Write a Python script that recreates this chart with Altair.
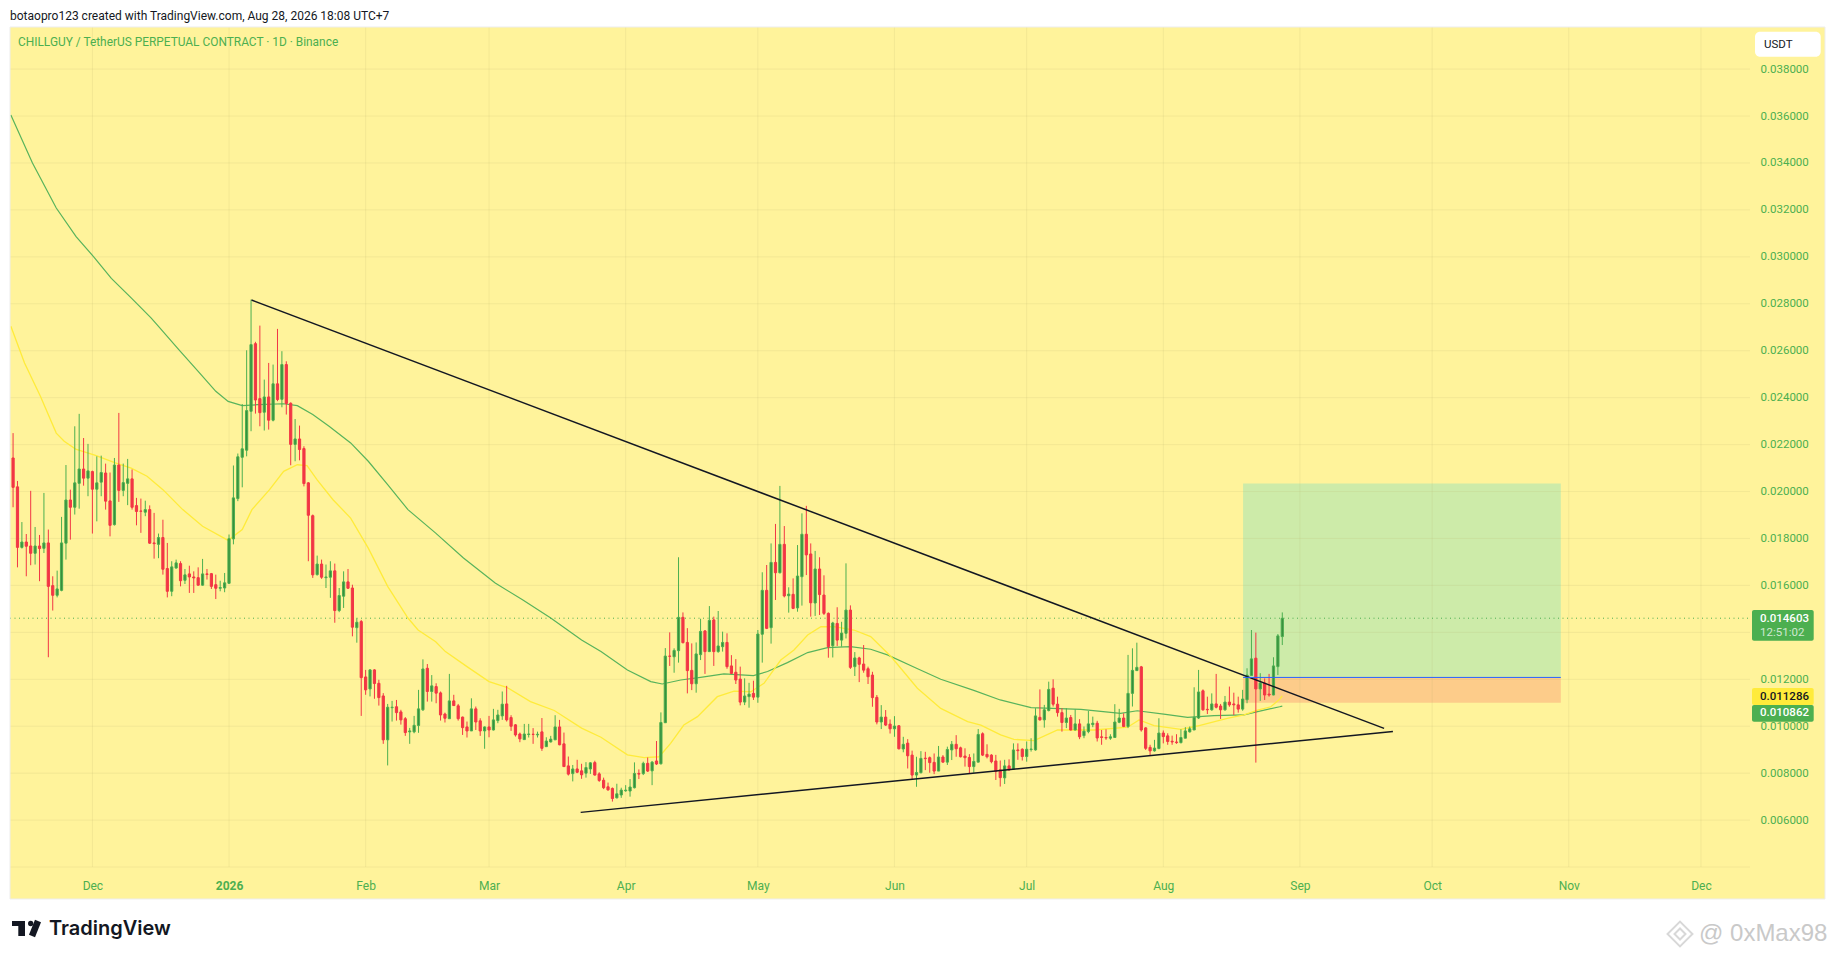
import altair as alt
import pandas as pd

# Prices are written in units of 0.00001 USDT
UNIT = 1e-5
FIRST_DAY = pd.Timestamp("2025-11-13")

opens = [2143,2020,1762,1785,1768,1737,1768,1758,1781,1599,
1558,1579,1780,1964,1933,2035,2096,2057,2085,2010,
2040,2079,1960,1859,2113,2005,2035,2054,1940,1917,
1912,1923,1781,1775,1804,1672,1575,1674,1693,1622,
1649,1636,1633,1601,1649,1650,1603,1588,1589,1609,
1798,1970,2146,2176,2342,2630,2396,2338,2403,2304,
2459,2393,2541,2376,2201,2224,2183,2037,1897,1646,
1691,1633,1635,1662,1493,1554,1615,1589,1420,1446,
1210,1159,1240,1183,1129,942,1079,1083,1061,1032,
976,976,1003,1070,1247,1148,1169,1142,1052,1032,
1108,1087,1039,997,980,1074,1023,980,997,984,
1024,1044,1095,1037,1006,967,943,965,966,963,
976,913,933,942,997,925,831,798,818,810,
800,818,845,797,770,742,735,695,707,725,
724,738,799,798,842,810,852,840,1015,1299,
1296,1322,1464,1357,1238,1181,1305,1406,1318,1453,
1318,1339,1357,1257,1230,1201,1103,1126,1140,1124,
1392,1579,1420,1698,1654,1775,1556,1562,1504,1637,
1818,1734,1525,1670,1559,1481,1343,1438,1367,1396,
1495,1254,1291,1265,1245,1218,1123,1018,1039,1009,
989,1002,903,928,877,792,802,864,866,846,
809,869,847,899,923,908,873,867,828,847,
968,880,877,852,814,780,831,817,899,902,
871,901,899,1038,1027,1067,1162,1094,1058,1016,
1037,984,1010,960,977,1007,1013,955,952,949,
952,1017,1035,999,1140,1237,1253,993,910,895,
905,971,959,936,933,930,949,976,984,1035,
1151,1072,1070,1095,1086,1070,1103,1095,1091,1073,
1113,1216,1290,1159,1184,1137,1133,1254,1382]
closes = [2018,1762,1785,1767,1737,1768,1757,1781,1596,1558,
1585,1781,1964,1933,2037,2096,2057,2088,2010,2037,
2081,1959,1856,2113,2005,2038,2054,1933,1915,1916,
1923,1780,1778,1804,1669,1575,1679,1696,1620,1645,
1636,1632,1601,1649,1647,1596,1588,1591,1611,1799,
1973,2148,2182,2345,2626,2390,2336,2403,2304,2459,
2392,2541,2375,2201,2224,2179,2034,1899,1645,1691,
1635,1636,1662,1493,1557,1615,1588,1422,1443,1207,
1155,1240,1182,1122,942,1081,1081,1058,1027,973,
980,1004,1074,1244,1148,1172,1141,1048,1034,1108,
1088,1032,994,980,1074,1018,980,997,984,1027,
1048,1094,1027,1000,963,946,967,967,965,966,
906,937,945,997,921,828,796,818,804,793,
824,844,792,769,738,729,692,712,728,728,
741,799,796,842,809,847,839,1016,1299,1298,
1323,1464,1356,1237,1181,1308,1404,1318,1451,1318,
1342,1357,1254,1225,1197,1103,1129,1137,1124,1393,
1579,1417,1698,1654,1775,1555,1563,1502,1640,1818,
1730,1526,1670,1561,1481,1339,1440,1367,1397,1495,
1251,1291,1264,1239,1211,1122,1018,1039,1005,989,
1001,904,923,874,792,803,863,862,845,809,
869,847,901,923,904,870,866,828,850,965,
877,870,849,807,781,831,814,899,896,871,
902,903,1044,1027,1070,1157,1094,1058,1016,1035,
984,1010,955,979,1010,1013,950,952,950,955,
1018,1035,999,1140,1238,1251,984,906,895,907,
971,956,935,933,930,952,980,989,1038,1146,
1070,1070,1095,1081,1070,1103,1091,1091,1073,1116,
1218,1287,1159,1184,1133,1133,1257,1385,1460]
highs = [2249,2045,1870,1819,2003,1849,1815,1994,1838,1639,
1663,1892,2113,2008,2278,2331,2228,2203,2089,2150,
2153,2119,2081,2143,2335,2119,2139,2094,1973,1970,
1961,1941,1909,1821,1880,1781,1703,1710,1703,1670,
1684,1660,1677,1713,1670,1653,1646,1620,1653,1817,
2111,2162,2373,2602,2818,2638,2707,2477,2548,2541,
2693,2598,2555,2380,2309,2281,2193,2040,1902,1727,
1710,1689,1703,1693,1589,1660,1670,1603,1460,1453,
1240,1243,1243,1198,1141,1095,1108,1112,1070,1039,
993,1044,1155,1285,1265,1218,1183,1148,1058,1223,
1134,1095,1041,1020,1119,1084,1034,999,1044,1074,
1070,1148,1172,1047,1009,973,1010,1010,992,977,
1035,953,959,1047,1027,973,871,835,857,840,
847,847,853,804,781,760,739,755,738,749,
775,846,816,849,867,852,937,1059,1333,1400,
1332,1720,1485,1418,1353,1357,1458,1410,1512,1467,
1491,1403,1396,1303,1286,1254,1204,1185,1194,1410,
1656,1687,1779,1862,2024,1853,1592,1630,1772,1907,
1939,1779,1747,1720,1643,1485,1445,1507,1445,1694,
1515,1316,1296,1346,1254,1232,1133,1090,1069,1029,
1043,1005,955,945,896,870,894,891,871,884,
916,877,913,937,962,913,906,881,884,988,
974,923,881,878,854,857,859,927,927,906,
935,949,1077,1157,1091,1190,1200,1126,1077,1077,
1048,1072,1030,999,1065,1041,1023,984,987,966,
1094,1074,1055,1304,1332,1356,1257,996,921,942,
1034,982,970,960,966,987,996,999,1166,1240,
1157,1126,1140,1223,1095,1129,1169,1143,1126,1155,
1247,1410,1399,1226,1204,1223,1294,1393,1485]
lows = [1933,1677,1757,1639,1686,1689,1618,1738,1294,1493,
1549,1575,1710,1795,1902,1927,2025,1980,1821,1873,
1980,1923,1809,1855,1956,1980,1942,1923,1856,1824,
1895,1777,1714,1716,1646,1549,1554,1672,1596,1606,
1568,1568,1599,1599,1625,1585,1542,1575,1571,1606,
1775,1959,2018,2150,2257,2332,2278,2260,2264,2299,
2385,2359,2328,2112,2129,2133,2022,1703,1632,1642,
1628,1589,1547,1441,1486,1504,1585,1383,1356,1044,
1134,1127,1117,1088,925,833,1020,1024,1007,959,
925,970,972,1065,1105,1105,1098,1024,1016,1032,
1087,1024,963,952,980,984,959,904,953,982,
1013,1027,1020,980,956,932,942,952,925,952,
895,912,931,942,919,828,790,765,800,776,
781,797,790,763,732,725,679,692,695,721,
700,735,775,792,805,749,835,837,1014,1257,
1228,1271,1353,1140,1154,1143,1282,1223,1316,1257,
1313,1318,1245,1222,1180,1089,1090,1079,1112,1100,
1271,1414,1352,1538,1651,1549,1484,1499,1488,1514,
1644,1467,1470,1474,1474,1292,1293,1342,1339,1374,
1244,1214,1188,1228,1180,1083,1008,988,1001,969,
955,901,889,820,774,742,799,813,802,796,
809,845,835,856,870,867,828,799,802,846,
873,863,842,771,743,754,811,814,857,854,
849,892,896,1024,994,1063,1084,1041,977,992,
982,982,945,949,970,996,935,921,942,942,
952,1013,996,992,1084,1236,977,899,875,892,
902,927,921,921,925,927,949,973,984,1031,
1066,1052,1066,1076,1031,1066,1083,1048,1058,1066,
1098,1214,845,1108,1112,1126,1132,1218,1346]

# Moving averages: days after FIRST_DAY, value
slow_days = [-0.5,4.4,9.8,14.3,18.3,22.3,26.8,31.3,33,37.6,42,46,48.8,52,55.5,61.4,64.5,68,71.7,
76.6,80.6,85,89.6,95.9,102.2,109.4,115.6,122,129,133.4,139.4,144.7,147.3,151.5,156,161.3,168,171.2,175.7,
180.3,184.8,190,194.6,198.4,205,210.5,218,224,231,242.3,251.3,255.1,261.1,266.5,272.5,279.3,282.4,287.4,288]
slow_vals = [3604,3400,3208,3086,3000,2908,2825,2740,2704,2605,2512,2427,2384,2366,2370,2374,2366,2328,2278,
2207,2129,2029,1923,1823,1717,1610,1539,1461,1367,1318,1240,1190,1180,1197,1208,1223,1216,1233,1271,
1314,1335,1339,1328,1304,1247,1200,1153,1112,1079,1072,1055,1066,1052,1038,1045,1048,1062,1083,1086]
fast_days = [-0.5,2.6,6.2,9.8,11.6,14.2,18.7,23.2,26.8,30.4,34,38.5,43,48.8,52,54.2,58.2,61.4,64.5,66.7,
69,72.6,76.6,80.6,85,89.6,91.9,95.9,98.1,103,108,112,117.4,122.8,129,133.4,139.4,143.2,146.6,149.2,
152.2,155.3,159.8,163.6,167.4,170.4,174.2,177.2,180.3,183.3,186.3,190.8,194.6,199.2,205.2,210.5,216.6,219.6,224.1,227.1,
231.7,237,245.3,252.9,255.5,258.9,265,268.7,275.5,279.3,282.4,285.4,287.4,288]
fast_vals = [2704,2548,2406,2249,2214,2181,2154,2122,2100,2065,2008,1923,1852,1792,1838,1923,2008,2086,2114,2110,
2050,1965,1887,1759,1596,1461,1410,1360,1318,1254,1190,1166,1105,1067,992,953,878,866,870,927,
1005,1041,1126,1150,1147,1183,1282,1325,1389,1424,1424,1410,1382,1297,1162,1076,1020,1005,963,944,
939,984,984,996,1027,1003,987,1001,1034,1048,1069,1083,1115,1129]

# Trend lines (days after FIRST_DAY, value)
upper_days = [54.1, 311.1]
upper_vals = [2816, 991]
lower_days = [128.8, 313.1]
lower_vals = [633, 978]

# Long position tool
zone_days = [279.1, 351.2]
target_price, entry_price, stop_price = 2034, 1208, 1100

last_price = 0.014603
countdown = "12:51:02"
fast_tag = 0.011286
slow_tag = 0.010862

price_ticks = [0.006,0.008,0.010,0.012,0.014,0.016,0.018,0.020,0.022,0.024,0.026,0.028,0.030,0.032,0.034,0.036,0.038]
grid_prices = [0.004] + price_ticks
month_starts = ["2025-12-01","2026-01-01","2026-02-01","2026-03-01","2026-04-01","2026-05-01","2026-06-01",
                "2026-07-01","2026-08-01","2026-09-01","2026-10-01","2026-11-01","2026-12-01"]

header_text = "botaopro123 created with TradingView.com, Aug 28, 2026 18:08 UTC+7"
legend_text = "CHILLGUY / TetherUS PERPETUAL CONTRACT · 1D · Binance"


def iso(day):
    return (FIRST_DAY + pd.Timedelta(days=float(day))).strftime("%Y-%m-%dT%H:%M:%SZ")


def ms(ts):
    return int(pd.Timestamp(ts).timestamp() * 1000)


GREEN, RED, BODY_GREEN = "#4CAF50", "#F23645", "#388E3C"
YELLOW_BG = "#FFF39B"
FONT = "Roboto"

W, H = 1819, 943
PX_PER_DAY = 4.407
DEC1 = pd.Timestamp("2025-12-01")
x_scale = alt.Scale(type="utc", nice=False, padding=0, domain=[
    ms(DEC1 + pd.Timedelta(days=(8 - 92.4) / PX_PER_DAY)),
    ms(DEC1 + pd.Timedelta(days=(1827 - 92.4) / PX_PER_DAY))])
PX_PER_UNIT = 23470.0
y_scale = alt.Scale(domain=[0.012 - (951 - 679.3) / PX_PER_UNIT, 0.012 + (679.3 - 8) / PX_PER_UNIT],
                    nice=False, zero=False, padding=0)

x_axis = alt.Axis(values=[ms(m) for m in month_starts], domain=False, ticks=False, grid=False, offset=-76,
                  labelColor=GREEN, labelFont=FONT, labelFontSize=12, labelPadding=5, labelOverlap=False,
                  labelFlush=False, labelBound=False, title=None,
                  labelFontWeight=alt.expr("utcmonth(datum.value)==0 ? 'bold' : 'normal'"),
                  labelExpr="utcmonth(datum.value)==0 ? utcFormat(datum.value,'%Y') : utcFormat(datum.value,'%b')")
y_axis = alt.Axis(values=price_ticks, orient="right", domain=False, ticks=False, grid=False, offset=-67,
                  labelColor=GREEN, labelFont=FONT, labelFontSize=11.5, labelPadding=0, labelAlign="left",
                  labelOverlap=False, labelBound=False, labelFlush=False, format=".6f", title=None)


def X(field):
    return alt.X(field, type="temporal", scale=x_scale, axis=x_axis)


def Y(field):
    return alt.Y(field, type="quantitative", scale=y_scale, axis=y_axis)


candles = pd.DataFrame({
    "date": [iso(i) for i in range(len(opens))],
    "open": [v * UNIT for v in opens], "close": [v * UNIT for v in closes],
    "high": [v * UNIT for v in highs], "low": [v * UNIT for v in lows]})
candles["dir"] = ["up" if c >= o else "down" for o, c in zip(opens, closes)]


def line_df(days, vals):
    return pd.DataFrame({"date": [iso(d) for d in days], "price": [v * UNIT for v in vals]})


one = pd.DataFrame({"a": [0]})

grid_color = "#B8B070"
zone_df = pd.DataFrame({"start": [iso(zone_days[0])] * 2, "end": [iso(zone_days[1])] * 2,
                        "top": [target_price * UNIT, entry_price * UNIT],
                        "bottom": [entry_price * UNIT, stop_price * UNIT], "kind": ["target", "stop"]})

layers = [
    alt.Chart(zone_df).mark_rect().encode(
        x=X("start"), x2="end", y=Y("top"), y2="bottom",
        color=alt.Color("kind:N", legend=None,
                        scale=alt.Scale(domain=["target", "stop"], range=["#CDEBA9", "#FDCC8A"]))),
    alt.Chart(pd.DataFrame({"date": month_starts})).mark_rule(color=grid_color, opacity=0.17, strokeWidth=1).encode(
        x=X("date"), y=alt.value(19), y2=alt.value(859)),
    alt.Chart(pd.DataFrame({"price": grid_prices})).mark_rule(color=grid_color, opacity=0.17, strokeWidth=1).encode(
        y=Y("price"), x=alt.value(2), x2=alt.value(1742)),
    alt.Chart(line_df(slow_days, slow_vals)).mark_line(color="#58B35C", strokeWidth=1.2).encode(x=X("date"), y=Y("price")),
    alt.Chart(line_df(fast_days, fast_vals)).mark_line(color="#FFEB3B", strokeWidth=1.3).encode(x=X("date"), y=Y("price")),
    alt.Chart(pd.DataFrame({"price": [last_price]})).mark_rule(color=GREEN, strokeWidth=1, strokeDash=[1, 3.5]).encode(
        y=Y("price"), x=alt.value(2), x2=alt.value(1742)),
    alt.Chart(candles).mark_rule(strokeWidth=1).encode(
        x=X("date"), y=Y("low"), y2="high",
        color=alt.Color("dir:N", legend=None, scale=alt.Scale(domain=["up", "down"], range=[GREEN, RED]))),
    alt.Chart(candles).mark_bar(size=2.2, strokeWidth=1).encode(
        x=X("date"), y=Y("open"), y2="close",
        fill=alt.Fill("dir:N", legend=None, scale=alt.Scale(domain=["up", "down"], range=[BODY_GREEN, RED])),
        stroke=alt.Stroke("dir:N", legend=None, scale=alt.Scale(domain=["up", "down"], range=[GREEN, RED]))),
    alt.Chart(line_df(upper_days, upper_vals)).mark_line(color="#131722", strokeWidth=1.5).encode(x=X("date"), y=Y("price")),
    alt.Chart(line_df(lower_days, lower_vals)).mark_line(color="#131722", strokeWidth=1.5).encode(x=X("date"), y=Y("price")),
    alt.Chart(pd.DataFrame({"start": [iso(zone_days[0])], "end": [iso(zone_days[1])], "price": [entry_price * UNIT]}))
    .mark_rule(color="#2962FF", strokeWidth=1).encode(x=X("start"), x2="end", y=Y("price")),
]

# frame around the pane
for x1, x2, y1, y2 in [(0, W, 0, 19), (0, 2, 0, H), (1817, W, 0, H), (0, W, 891, H)]:
    layers.append(alt.Chart(one).mark_rect(color="white").encode(
        x=alt.value(x1), x2=alt.value(x2), y=alt.value(y1), y2=alt.value(y2)))
for x1, x2, y1, y2 in [(2, 1817, 18.5, 19.5), (2, 1817, 890.5, 891.5), (1.5, 2.5, 19, 891), (1816.5, 1817.5, 19, 891)]:
    layers.append(alt.Chart(one).mark_rect(color="#EEEEEE").encode(
        x=alt.value(x1), x2=alt.value(x2), y=alt.value(y1), y2=alt.value(y2)))

# price tags and the currency box
for y1, y2, col in [(602, 632.7, GREEN), (680, 697, "#FFEB3B"), (697, 713.7, GREEN)]:
    layers.append(alt.Chart(one).mark_rect(color=col, cornerRadius=2).encode(
        x=alt.value(1744), x2=alt.value(1805.7), y=alt.value(y1), y2=alt.value(y2)))
layers.append(alt.Chart(one).mark_rect(color="white", cornerRadius=5).encode(
    x=alt.value(1747), x2=alt.value(1812.7), y=alt.value(23.7), y2=alt.value(48.7)))


def label(text, x, y, color, size=12, font=FONT, weight="normal", opacity=1.0):
    return alt.Chart(one).mark_text(text=text, align="left", baseline="middle", color=color, fontSize=size,
                                    font=font, fontWeight=weight, opacity=opacity).encode(
        x=alt.value(x), y=alt.value(y))


layers += [
    label(f"{last_price:.6f}", 1752, 610.7, "white", 11.5, weight=500),
    label(countdown, 1752, 624.7, "#CFE8D0", 11.5),
    label(f"{fast_tag:.6f}", 1752, 688.7, "#131722", 11.5, weight=500),
    label(f"{slow_tag:.6f}", 1752, 705.3, "white", 11.5, weight=500),
    label("USDT", 1756, 36.5, "#131722", 11.5),
    label(header_text, 2, 7.5, "#131722", 12),
    label(legend_text, 10, 34, GREEN, 11.9),
    label("TradingView", 41, 920.5, "#131722", 20, font="Inter", weight=600),
    label("@ 0xMax98", 1691, 926, "#C9C9C9", 24, font="Liberation Sans"),
]

# TradingView mark and watermark mark
layers += [
    alt.Chart(one).mark_rect(color="#131722").encode(x=alt.value(4), x2=alt.value(17), y=alt.value(913), y2=alt.value(918)),
    alt.Chart(one).mark_rect(color="#131722").encode(x=alt.value(10.3), x2=alt.value(17), y=alt.value(913), y2=alt.value(928)),
    alt.Chart(one).mark_point(color="#131722", filled=True, size=28, opacity=1).encode(x=alt.value(22.7), y=alt.value(915.5)),
    alt.Chart(one).mark_rule(color="#131722", strokeWidth=6.5).encode(
        x=alt.value(30), x2=alt.value(24), y=alt.value(913), y2=alt.value(928)),
    alt.Chart(one).mark_point(shape="diamond", color="#D8D8D8", size=620, strokeWidth=2, opacity=1).encode(
        x=alt.value(1672), y=alt.value(926)),
    alt.Chart(one).mark_point(shape="diamond", color="#D8D8D8", size=120, strokeWidth=2, opacity=1).encode(
        x=alt.value(1672), y=alt.value(926)),
]

chart = alt.layer(*layers).properties(
    width=W, height=H, padding=0, autosize=alt.AutoSizeParams(type="none")
).resolve_scale(color="independent", fill="independent", stroke="independent").configure_view(fill=YELLOW_BG, stroke=None)

chart.save("out.html", embed_options={"renderer": "svg", "actions": False})
